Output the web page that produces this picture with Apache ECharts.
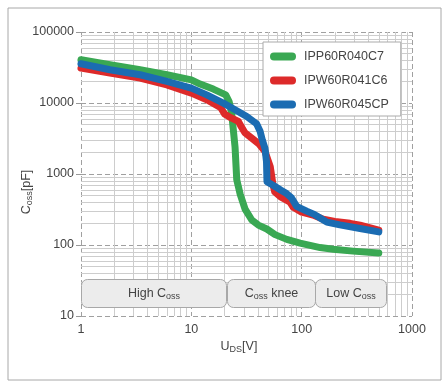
<!DOCTYPE html>
<html><head><meta charset="utf-8">
<script src="https://cdn.jsdelivr.net/npm/echarts@6/dist/echarts.min.js"></script>
<style>html,body{margin:0;padding:0;background:#fff}#c{width:442px;height:384px}</style>
</head><body><div id="c"></div>
<script>
// ---- data ----
const seriesNames = ['IPP60R040C7', 'IPW60R041C6', 'IPW60R045CP'];
const seriesColors = ['#3aa853', '#dd2a2a', '#1b6cb2'];
const greenData = [[1,40600],[1.83,34600],[3.43,29400],[6,25000],[10,21200],[12,18500],[15.8,15700],[20.5,13000],[22,10500],[23.2,7200],[24.9,2400],[25.8,830],[27.7,520],[30.7,320],[35.3,225],[40.5,191],[48.3,168],[57.4,140],[73.3,120],[96.7,106],[147,92],[193,87],[292,82],[500,77]];
const redData = [[1,31000],[1.83,26400],[3.43,22400],[6,18000],[10,13800],[13.8,11100],[18.5,8600],[20,7000],[22,6400],[26.7,5500],[28,4800],[30.6,3800],[40.5,2700],[46.6,2070],[51.9,1270],[55,700],[57,560],[64,480],[78.6,400],[84,340],[100,290],[127,264],[157,230],[200,215],[275,202],[338,190],[500,162]];
const blueData = [[1,35700],[1.83,29400],[3.43,25000],[6,20100],[10,16200],[13.8,13000],[19.5,9950],[24,8300],[31.8,6450],[39,5100],[42,4000],[44,3000],[46.5,2300],[48,1500],[48.5,780],[55.5,690],[65,590],[73,530],[81,460],[90,350],[111,300],[130,270],[147,240],[169,210],[222,192],[338,171],[500,153]];
const xMinorTicks = [2,3,4,5,6,7,8,9,20,30,40,50,60,70,80,90,200,300,400,500,600,700,800,900];
const yMinorTicks = [20,30,40,50,60,70,80,90,200,300,400,500,600,700,800,900,2000,3000,4000,5000,6000,7000,8000,9000,20000,30000,40000,50000,60000,70000,80000,90000];
const regionLabels = ['{a|High C}{s|oss}', '{a|C}{s|oss}{a| knee}', '{a|Low C}{s|oss}'];
const regionStart = [1, 21, 133];
const regionEnd = [20.5, 131, 580];
const regionBottom = 13.3;
const regionTop = 33;

// ---- chart ----
const FONT = "'Liberation Sans', Arial, sans-serif";
const TXT = '#444';
const axisRich = {
  a: { fontSize: 12.5, fontFamily: FONT, color: TXT },
  s: { fontSize: 9, fontFamily: FONT, color: TXT, padding: [6, 0, 0, 0] }
};
const boxRich = {
  a: { fontSize: 12.5, fontFamily: FONT, fill: TXT },
  s: { fontSize: 9, fontFamily: FONT, fill: TXT, padding: [6, 0, 0, 0] }
};
const chart = echarts.init(document.getElementById('c'), null, { renderer: 'canvas' });
const dashed = { color: '#a0a0a0', width: 1, type: [5, 3] };

const option = {
  animation: false,
  backgroundColor: '#fff',
  graphic: [{
    type: 'rect', left: 5.5, top: 5.5, z: -10,
    shape: { x: 0, y: 0, width: 433, height: 372 },
    style: { fill: 'none', stroke: '#a8a8a8', lineWidth: 1 }
  }],
  grid: { left: 81, right: 30, top: 32, bottom: 68 },
  legend: {
    orient: 'vertical', left: 263, top: 42, z: 10,
    icon: 'path://M4,0 L22,0 A4,4 0 0 1 22,8 L4,8 A4,4 0 0 1 4,0 Z',
    itemWidth: 26, itemHeight: 8, itemGap: 11,
    padding: [8, 12, 5, 7],
    backgroundColor: '#fff', borderColor: '#aaa', borderWidth: 1,
    textStyle: { fontSize: 12.5, color: TXT, fontFamily: FONT, padding: [0, 0, 0, 3] },
    data: seriesNames
  },
  xAxis: {
    type: 'log', logBase: 10, min: 1, max: 1000,
    axisLine: { show: false }, axisTick: { show: false },
    axisLabel: { margin: 7, color: TXT, fontSize: 12.5, fontFamily: FONT, formatter: v => String(v) },
    splitLine: { show: true, lineStyle: dashed },
    name: '{a|U}{s|DS}{a|[V]}', nameLocation: 'middle', nameGap: 23, nameMoveOverlap: false,
    nameTextStyle: { rich: axisRich, padding: [0, 15, 0, 0] }
  },
  yAxis: {
    type: 'log', logBase: 10, min: 10, max: 100000,
    axisLine: { show: false },
    axisTick: { show: true, length: 5, lineStyle: { color: '#999' } },
    axisLabel: { margin: 7, color: TXT, fontSize: 12.5, fontFamily: FONT, formatter: v => String(v) },
    splitLine: { show: true, lineStyle: dashed },
    name: '{a|C}{s|oss}{a|[pF]}', nameLocation: 'middle', nameRotate: 90, nameGap: 47, nameMoveOverlap: false,
    nameTextStyle: { rich: axisRich, padding: [0, 36, 0, 0] }
  },
  series: [
    {
      type: 'line', name: '_grid', data: [], silent: true, z: 1,
      markLine: {
        silent: true, animation: false, symbol: ['none', 'none'], z: 1,
        label: { show: false },
        lineStyle: { color: '#cdcdcd', width: 1, type: 'solid' },
        emphasis: { disabled: true },
        data: xMinorTicks.map(v => ({ xAxis: v })).concat(yMinorTicks.map(v => ({ yAxis: v })))
      }
    },
    {
      type: 'custom', name: '_regions', silent: true, z: 2, clip: false,
      encode: { x: [0, 1], y: [2, 3] },
      data: regionStart.map((s, i) => [s, regionEnd[i], regionBottom, regionTop]),
      renderItem: function (params, api) {
        const p1 = api.coord([api.value(0), api.value(3)]);
        const p2 = api.coord([api.value(1), api.value(2)]);
        const x = Math.round(p1[0]) + 0.5, y = Math.round(p1[1]) + 0.5;
        const w = Math.round(p2[0]) - Math.round(p1[0]), h = Math.round(p2[1]) - Math.round(p1[1]);
        return {
          type: 'group',
          children: [
            { type: 'rect', shape: { x: x, y: y, width: w, height: h, r: 6 },
              style: { fill: '#ececec', stroke: '#a8a8a8', lineWidth: 1 } },
            { type: 'text',
              style: { x: x + w / 2, y: y + h / 2, text: regionLabels[params.dataIndex], rich: boxRich,
                       align: 'center', verticalAlign: 'middle', fill: TXT, fontSize: 12.5, fontFamily: FONT } }
          ]
        };
      }
    },
    { type: 'line', name: seriesNames[0], data: greenData, symbol: 'none', z: 3,
      lineStyle: { width: 7, color: seriesColors[0], cap: 'round', join: 'round' }, itemStyle: { color: seriesColors[0] } },
    { type: 'line', name: seriesNames[1], data: redData, symbol: 'none', z: 3,
      lineStyle: { width: 7, color: seriesColors[1], cap: 'round', join: 'round' }, itemStyle: { color: seriesColors[1] } },
    { type: 'line', name: seriesNames[2], data: blueData, symbol: 'none', z: 3,
      lineStyle: { width: 7, color: seriesColors[2], cap: 'round', join: 'round' }, itemStyle: { color: seriesColors[2] } }
  ]
};
chart.setOption(option);
</script>
</body></html>
